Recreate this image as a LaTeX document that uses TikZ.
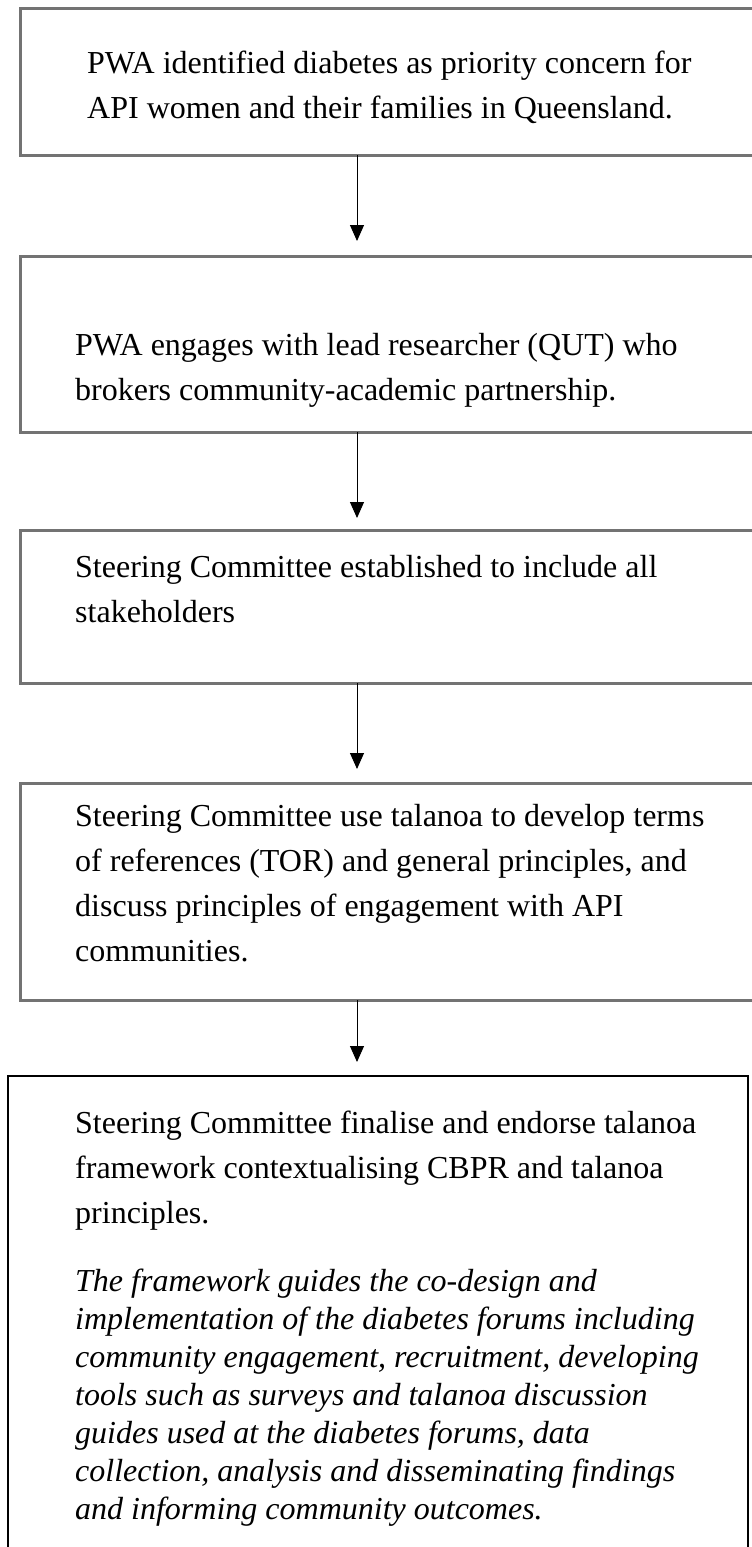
\documentclass[tikz,border=0pt]{standalone}
\usepackage{fontspec}
\setmainfont{Liberation Serif}
\usetikzlibrary{arrows.meta}
\begin{document}
\begin{tikzpicture}[x=1pt,y=-1pt,
  graybox/.style={draw=black!55,line width=3pt},
  blackbox/.style={draw=black,line width=2.6pt},
  txt/.style={anchor=base west,inner sep=0pt,align=left,font=\fontsize{32}{45}\selectfont},
  itxt/.style={anchor=base west,inner sep=0pt,align=left,font=\fontsize{32}{38}\selectfont\itshape},
  arr/.style={line width=1pt,-{Triangle[width=14pt,length=16pt]}}]
\useasboundingbox (0,0) rectangle (752,1547);
\fill[white] (0,0) rectangle (752,1547);
% boxes
\draw[graybox] (20,8) rectangle (780,155);
\draw[graybox] (20,256) rectangle (780,432);
\draw[graybox] (20,530) rectangle (780,683);
\draw[graybox] (20,783) rectangle (780,1000);
\draw[blackbox] (8,1076) rectangle (748,1600);
% texts (anchored at the baseline of the last line)
\node[txt] (t1) at (87,118) {PWA identified diabetes as priority concern for\\API women and their families in Queensland.};
\node[txt] (t2) at (75,400) {PWA engages with lead researcher (QUT) who\\brokers community-academic partnership.};
\node[txt] (t3) at (75,622) {Steering Committee established to include all\\stakeholders};
\node[txt] (t4) at (75,961) {Steering Committee use talanoa to develop terms\\of references (TOR) and general principles, and\\discuss principles of engagement with API\\communities.};
\node[txt] (t5) at (75,1223) {Steering Committee finalise and endorse talanoa\\framework contextualising CBPR and talanoa\\principles.};
\node[itxt] (t6) at (75,1519) {The framework guides the co-design and\\implementation of the diabetes forums including\\community engagement, recruitment, developing\\tools such as surveys and talanoa discussion\\guides used at the diabetes forums, data\\collection, analysis and disseminating findings\\and informing community outcomes.};
% arrows
\coordinate (s1) at (357,155); \coordinate (e1) at (357,241);
\coordinate (s2) at (357,432); \coordinate (e2) at (357,518);
\coordinate (s3) at (357,683); \coordinate (e3) at (357,769);
\coordinate (s4) at (357,1000); \coordinate (e4) at (357,1062);
\draw[arr] (s1) -- (e1);
\draw[arr] (s2) -- (e2);
\draw[arr] (s3) -- (e3);
\draw[arr] (s4) -- (e4);
\end{tikzpicture}
\end{document}
